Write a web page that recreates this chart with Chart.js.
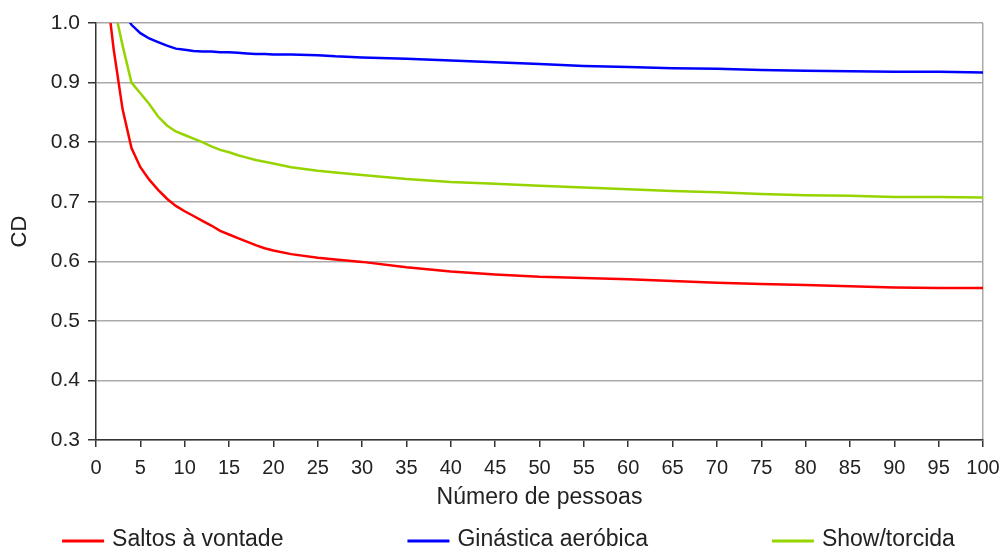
<!DOCTYPE html>
<html>
<head>
<meta charset="utf-8">
<script src="https://cdn.jsdelivr.net/npm/chart.js@4/dist/chart.umd.min.js"></script>
<style>
  html, body { margin: 0; padding: 0; background: #fff; }
  #wrap { width: 1007px; height: 548px; position: relative; }
</style>
</head>
<body>
<div id="wrap"><canvas id="cdChart"></canvas></div>
<script>
// Número de pessoas (eixo x)
const pessoas = [1, 2, 3, 4, 5, 6, 7, 8, 9, 10, 11, 12, 13, 14, 15, 16, 17, 18, 19, 20,
  22, 25, 27, 30, 35, 40, 45, 50, 55, 60, 65, 70, 75, 80, 85, 90, 95, 100];

// Valores de CD
const saltos = [1.08, 0.955, 0.855, 0.79, 0.758, 0.737, 0.72, 0.705, 0.693, 0.684, 0.676, 0.668, 0.66, 0.651, 0.645, 0.639, 0.633, 0.627, 0.622, 0.618,
  0.612, 0.606, 0.603, 0.599, 0.590, 0.583, 0.578, 0.574, 0.572, 0.570, 0.567, 0.564, 0.562, 0.560, 0.558, 0.556, 0.555, 0.555];
const ginastica = [1.08, 1.05, 1.02, 0.997, 0.983, 0.974, 0.968, 0.962, 0.957, 0.955, 0.953, 0.952, 0.952, 0.951, 0.951, 0.950, 0.949, 0.948, 0.948, 0.947,
  0.947, 0.946, 0.944, 0.942, 0.940, 0.937, 0.934, 0.931, 0.928, 0.926, 0.924, 0.923, 0.921, 0.920, 0.919, 0.918, 0.918, 0.917];
const show = [1.10, 1.03, 0.962, 0.900, 0.882, 0.864, 0.843, 0.828, 0.818, 0.812, 0.806, 0.800, 0.793, 0.787, 0.783, 0.778, 0.774, 0.770, 0.767, 0.764,
  0.758, 0.752, 0.749, 0.745, 0.738, 0.733, 0.730, 0.727, 0.724, 0.721, 0.718, 0.716, 0.713, 0.711, 0.710, 0.708, 0.708, 0.707];

const nomes = ["Saltos à vontade", "Ginástica aeróbica", "Show/torcida"];
const cores = ["#ff0000", "#0000ff", "#96d400"];

const fonte = "'Liberation Sans', Arial, sans-serif";
const corTexto = "#222";

function pontos(valores) {
  return pessoas.map((x, i) => ({ x: x, y: valores[i] }));
}

// Legenda desenhada à mão (linhas + texto, espaçadas como no original)
const legendaLinhas = {
  id: "legendaLinhas",
  afterDraw(chart) {
    const ctx = chart.ctx;
    const y = 541;
    const tamLinha = 42, vao = 8, entre = 124;
    ctx.save();
    ctx.font = "23px " + fonte;
    const larguras = nomes.map(n => ctx.measureText(n).width);
    let total = 0;
    larguras.forEach((w, i) => { total += tamLinha + vao + w + (i < nomes.length - 1 ? entre : 0); });
    let x = (chart.width - total) / 2 + 5;
    nomes.forEach((n, i) => {
      ctx.strokeStyle = cores[i];
      ctx.lineWidth = 3;
      ctx.beginPath();
      ctx.moveTo(x, y);
      ctx.lineTo(x + tamLinha, y);
      ctx.stroke();
      ctx.fillStyle = corTexto;
      ctx.textBaseline = "middle";
      ctx.fillText(n, x + tamLinha + vao, y - 1);
      x += tamLinha + vao + larguras[i] + entre;
    });
    ctx.restore();
  }
};

const datasets = [saltos, ginastica, show].map((v, i) => ({
  label: nomes[i],
  data: pontos(v),
  borderColor: cores[i],
  backgroundColor: cores[i],
  borderWidth: 2.5,
  pointRadius: 0,
  tension: 0,
  clip: 0
}));

new Chart(document.getElementById("cdChart"), {
  type: "line",
  data: { datasets: datasets },
  options: {
    responsive: true,
    maintainAspectRatio: false,
    animation: false,
    layout: { padding: { top: 23, right: 24, bottom: 33, left: 0 } },
    plugins: {
      legend: { display: false },
      tooltip: { enabled: false }
    },
    scales: {
      x: {
        type: "linear",
        min: 0,
        max: 100,
        afterFit: (s) => { s.height = 75; s.paddingLeft = 0; s.paddingRight = 0; },
        ticks: { stepSize: 5, color: corTexto, padding: 9, maxRotation: 0, font: { family: fonte, size: 20 } },
        grid: {
          drawOnChartArea: true,
          color: (c) => (c.tick && c.tick.value === 100 ? "#aaaaaa" : "rgba(0,0,0,0)"),
          lineWidth: 1.5,
          tickColor: "#333",
          tickLength: 7
        },
        border: { display: true, color: "#333", width: 1.5 },
        title: { display: true, text: "Número de pessoas", color: corTexto, padding: { top: 0, bottom: 4 }, font: { family: fonte, size: 23 } }
      },
      y: {
        min: 0.3,
        max: 1.0,
        afterFit: (s) => { s.width = 96; },
        ticks: { stepSize: 0.1, color: corTexto, padding: 8, font: { family: fonte, size: 21 }, callback: (v) => v.toFixed(1) },
        grid: { color: "#aaaaaa", lineWidth: 1.5, tickColor: "#333", tickLength: 8 },
        border: { display: true, color: "#333", width: 1.5 },
        title: { display: true, text: "CD", color: corTexto, padding: { top: 7, bottom: 0 }, font: { family: fonte, size: 22 } }
      }
    }
  },
  plugins: [legendaLinhas]
});
</script>
</body>
</html>
